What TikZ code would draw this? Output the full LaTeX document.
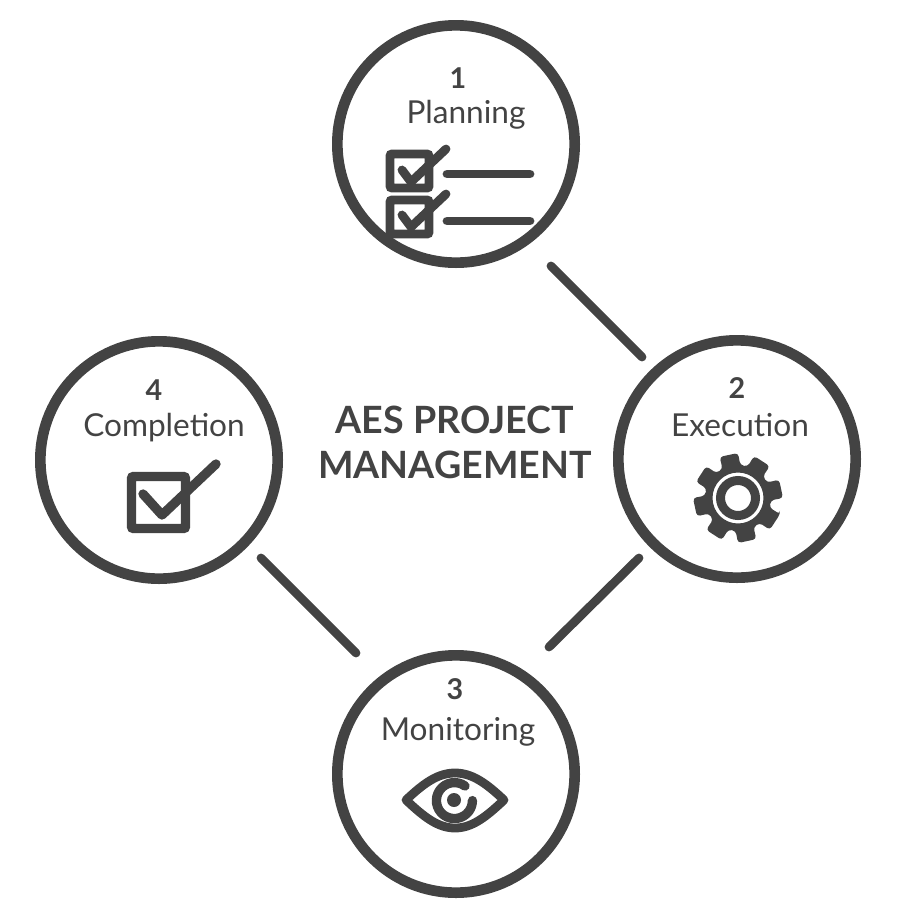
\documentclass[tikz,border=0pt]{standalone}
\usepackage{fontspec}
\setmainfont{Lato}
\definecolor{aesgrey}{HTML}{434343}
\tikzset{
	every picture/.style={line width=0.75pt},
	phase/.style={draw=aesgrey,line width=8pt,circle,minimum size=178pt,inner sep=0pt},
	link/.style={draw=aesgrey,line width=6.6pt,line cap=round},
	icon/.style={draw=aesgrey,line width=6.6pt,line cap=round,line join=round},
	boxicon/.style={draw=aesgrey,line width=6.6pt,rounded corners=1.5pt},
	numlabel/.style={text=aesgrey,font=\fontsize{21.5}{24}\selectfont\bfseries,inner sep=0.75pt},
	namelabel/.style={text=aesgrey,font=\fontsize{23.7}{26}\selectfont,inner sep=0.75pt},
	titlelabel/.style={text=aesgrey,font=\fontsize{28.2}{30}\selectfont\bfseries,inner sep=0.75pt},
}
\begin{document}
\begin{tikzpicture}[x=0.75pt,y=0.75pt,yscale=-1,xscale=1]
	\useasboundingbox (0,0) rectangle (900,900);

	%Phase circles
	\node [phase] (planning) at (456,144) {};
	\node [phase] (execution) at (737,459) {};
	\node [phase] (monitoring) at (456,774) {};
	\node [phase] (completion) at (159,460) {};

	%Link ends
	\coordinate (planA) at (551,266);
	\coordinate (execA) at (642,357);
	\coordinate (execB) at (639,558);
	\coordinate (moniA) at (549,647);
	\coordinate (moniB) at (356,653);
	\coordinate (compB) at (261,558);
	\draw [link] (planA) -- (execA);
	\draw [link] (execB) -- (moniA);
	\draw [link] (moniB) -- (compB);

	%Icon: Planning
	\draw [boxicon] (390,154) rectangle (429,188);
	\draw [boxicon] (390,200) rectangle (429,234);
	\draw [icon] (402,170) -- (411,182) -- (446,149);
	\draw [icon] (402,215) -- (411,227) -- (446,194);
	\draw [icon] (447,174) -- (530,174);
	\draw [icon] (447,221) -- (530,221);

	%Icon: Execution
	\begin{scope}[shift={(738,498)}]
		\fill [aesgrey,even odd rule,rounded corners=2.5pt] (21:45)
			\foreach \a in {33,78,123,168,213,258,303,348} {
				-- (\a-12:45) -- (\a+12:45) -- (\a+16:33) -- (\a+29:33)
			} -- cycle
			(0,0) circle [radius=25.5];
		\draw [aesgrey,line width=6.75pt] (0,0) circle [radius=17.5];
	\end{scope}

	%Icon: Monitoring
	\draw [icon] (406,800) .. controls (424,783) and (438,773) .. (455,773)
		.. controls (472,773) and (486,783) .. (504,800)
		.. controls (486,817) and (472,828) .. (455,828)
		.. controls (438,828) and (424,817) .. (406,800) -- cycle;
	\draw [icon,line width=7pt] (465,786) arc [start angle=-54,end angle=-360,radius=18];
	\fill [aesgrey] (454,800) circle [radius=7];

	%Icon: Completion
	\draw [boxicon,line width=7pt] (131.5,476.5) rectangle (185.5,528.5);
	\draw [icon,line width=7pt] (143,494) -- (162,515) -- (216,464);

	% Text Node
	\node [numlabel] (num1) at (458,78) {1};
	\node [namelabel] (name1) at (466,115) {Planning};
	\node [numlabel] (num2) at (737,388) {2};
	\node [namelabel] (name2) at (740,425) {Execution};
	\node [numlabel] (num3) at (455,689) {3};
	\node [namelabel] (name3) at (458,732) {Monitoring};
	\node [numlabel] (num4) at (154,390) {4};
	\node [namelabel] (name4) at (164,428) {Completion};
	\node [titlelabel] (title1) at (455,420) {AES PROJECT};
	\node [titlelabel] (title2) at (455,465) {MANAGEMENT};
\end{tikzpicture}
\end{document}
